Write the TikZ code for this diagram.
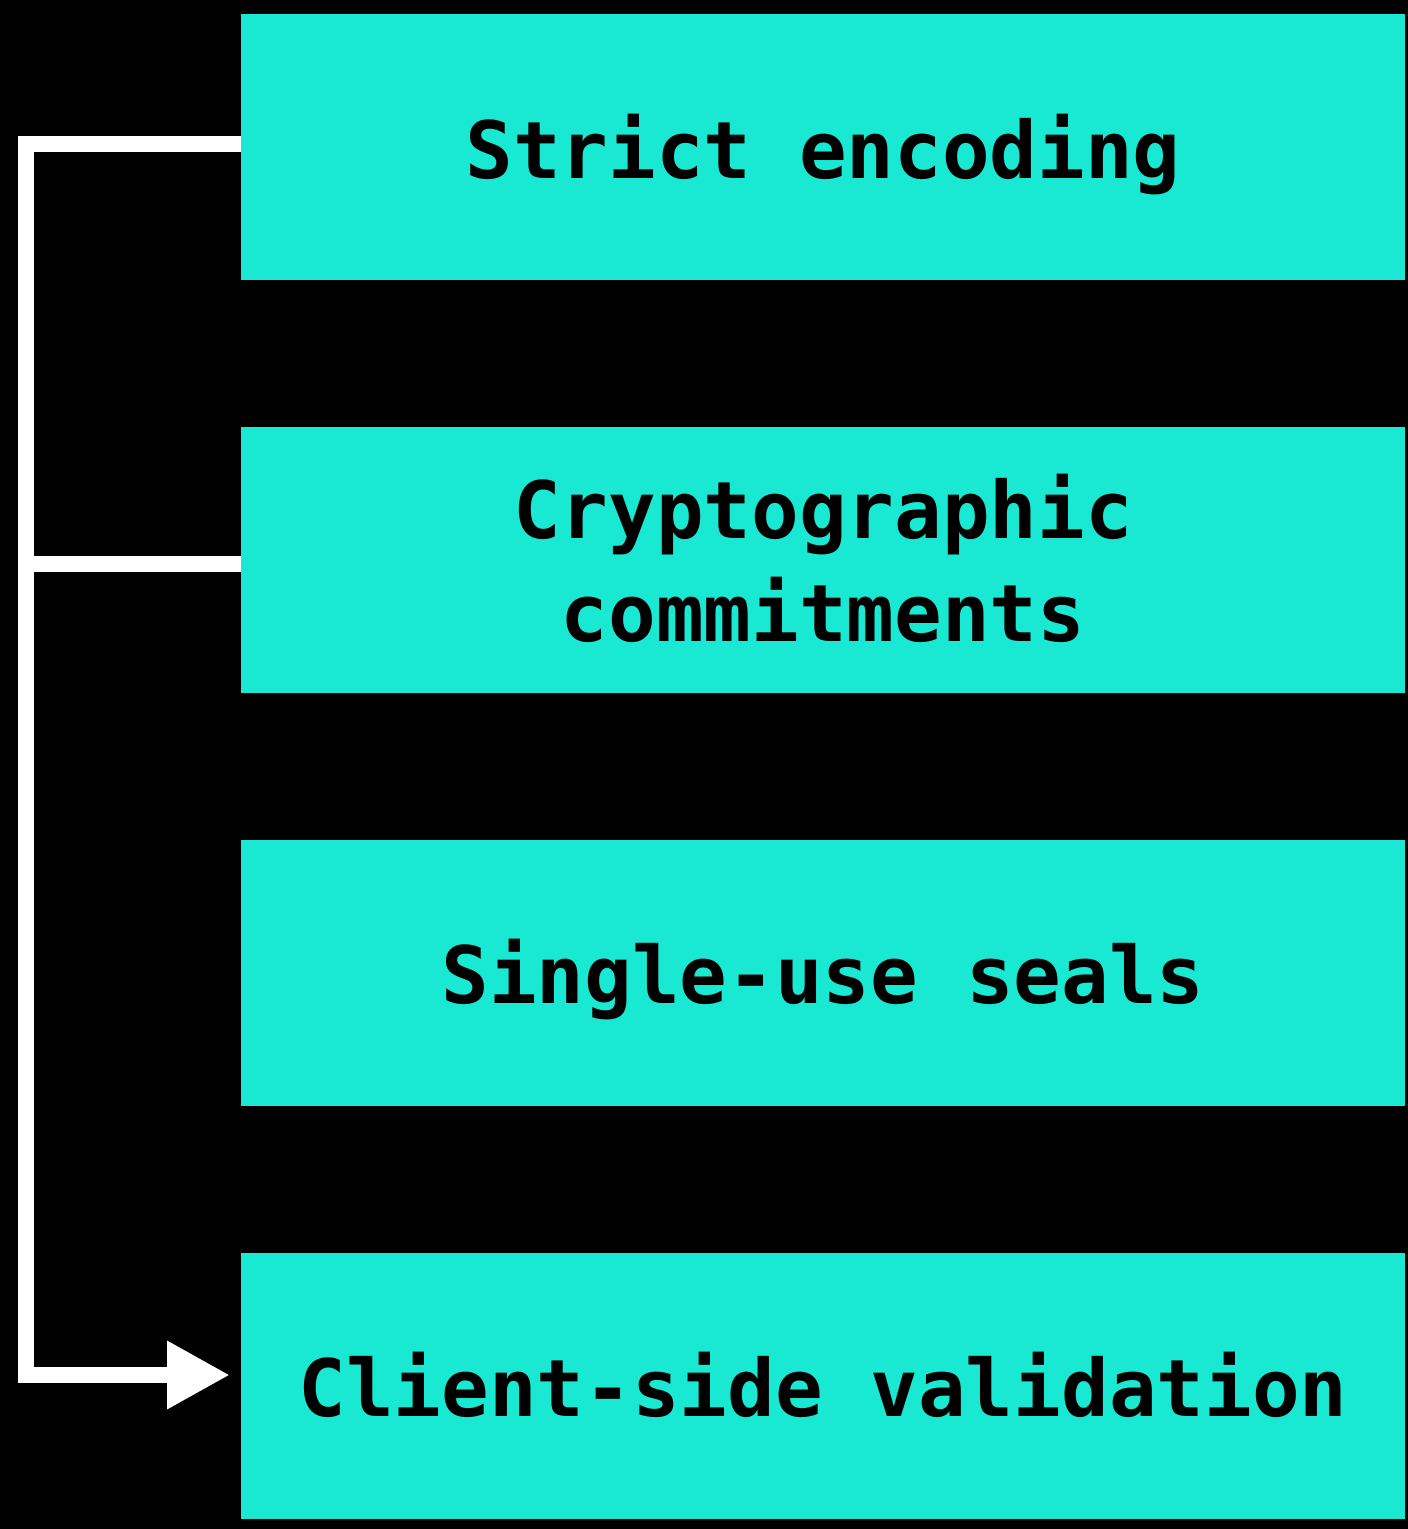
\documentclass[tikz,border=0pt]{standalone}
\usepackage{fontspec}
\setmonofont{DejaVu Sans Mono}
\usetikzlibrary{arrows.meta}
\definecolor{teal}{RGB}{25,232,210}
\begin{document}
\begin{tikzpicture}[x=1pt,y=-1pt,
  box/.style={fill=teal,draw=none,minimum width=1164pt,minimum height=266pt,inner sep=0pt,anchor=north west},
  lbl/.style={font=\fontsize{79.2pt}{104pt}\selectfont\ttfamily\bfseries,text=black,anchor=base,align=center,inner sep=0pt},
  wire/.style={draw=white,line width=16pt,line join=miter}]
\fill[black] (0,0) rectangle (1408,1529);
\useasboundingbox (0,0) rectangle (1408,1529);
\node[box] (b1) at (241,14) {};
\node[box] (b2) at (241,427) {};
\node[box] (b3) at (241,840) {};
\node[box] (b4) at (241,1253) {};
\node[lbl] (t1) at (823,178) {Strict encoding};
\node[lbl] (t2a) at (823,538) {Cryptographic};
\node[lbl] (t2b) at (823,641) {commitments};
\node[lbl] (t3) at (823,1003) {Single-use seals};
\node[lbl] (t4) at (823,1416) {Client-side validation};
\coordinate (c1) at (26,144);
\coordinate (c2) at (26,564);
\coordinate (c4) at (26,1375);
\draw[wire,-{Triangle[length=63pt,width=64pt]},shorten >=11pt]
  (c1 -| b1.west) -- (c1) -- (c4) -- (c4 -| b4.west);
\draw[wire] (c2 -| b2.west) -- (c2);
\end{tikzpicture}
\end{document}
